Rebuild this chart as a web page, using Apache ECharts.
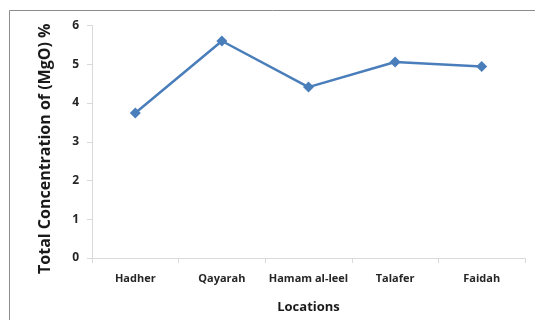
<!DOCTYPE html>
<html>
<head>
<meta charset="utf-8">
<script src="https://cdn.jsdelivr.net/npm/echarts@6/dist/echarts.min.js"></script>
<style>
  html, body { margin: 0; padding: 0; background: #fff; }
  #chart { width: 535px; height: 320px; }
</style>
</head>
<body>
<div id="chart"></div>
<script>
// Sampling locations and total MgO concentration (%)
const locations = ['Hadher', 'Qayarah', 'Hamam al-leel', 'Talafer', 'Faidah'];
const mgoPercent = [3.74, 5.6, 4.41, 5.06, 4.94];
const yTicks = [0, 1, 2, 3, 4, 5, 6];

const FONT = 'Open Sans';
const chart = echarts.init(document.getElementById('chart'), null, { renderer: 'canvas' });

chart.setOption({
  animation: false,
  backgroundColor: '#fff',
  textStyle: { fontFamily: FONT },
  graphic: [
    // frame around the chart (top and left edges visible)
    { type: 'line', shape: { x1: 9.5, y1: 10.5, x2: 535, y2: 10.5 },
      style: { stroke: '#8c8c8c', lineWidth: 1 } },
    { type: 'line', shape: { x1: 9.5, y1: 10.5, x2: 9.5, y2: 320 },
      style: { stroke: '#8c8c8c', lineWidth: 1 } }
  ],
  grid: { left: 92, right: 10, top: 25.5, bottom: 62, containLabel: false },
  xAxis: {
    type: 'category',
    data: locations,
    boundaryGap: true,
    name: 'Locations',
    nameLocation: 'middle',
    nameGap: 43,
    nameTextStyle: { fontFamily: FONT, fontWeight: 'bold', fontSize: 13, color: '#1a1a1a' },
    axisLine: { lineStyle: { color: '#d9d9d9', width: 1 } },
    axisTick: { show: true, alignWithLabel: false, length: 5, lineStyle: { color: '#d9d9d9' } },
    axisLabel: { interval: 0, fontFamily: FONT, fontWeight: 'bold', fontSize: 11, color: '#262626', margin: 15 },
    splitLine: { show: false }
  },
  yAxis: {
    type: 'value',
    min: yTicks[0],
    max: yTicks[yTicks.length - 1],
    interval: 1,
    name: 'Total Concentration of (MgO) %',
    nameLocation: 'middle',
    nameGap: 39,
    nameTextStyle: { fontFamily: FONT, fontWeight: 'bold', fontSize: 16, color: '#1a1a1a', padding: [0, 14, 0, 0] },
    axisLine: { show: true, lineStyle: { color: '#d9d9d9', width: 1 } },
    axisTick: { show: true, length: 5, lineStyle: { color: '#d9d9d9' } },
    axisLabel: { fontFamily: FONT, fontWeight: 'bold', fontSize: 12, color: '#262626', margin: 13 },
    splitLine: { show: false }
  },
  series: [{
    type: 'line',
    data: mgoPercent,
    symbol: 'diamond',
    symbolSize: 11,
    itemStyle: { color: '#4a7ebb' },
    lineStyle: { color: '#4a7ebb', width: 2.5 },
    label: { show: false }
  }]
});
</script>
</body>
</html>
